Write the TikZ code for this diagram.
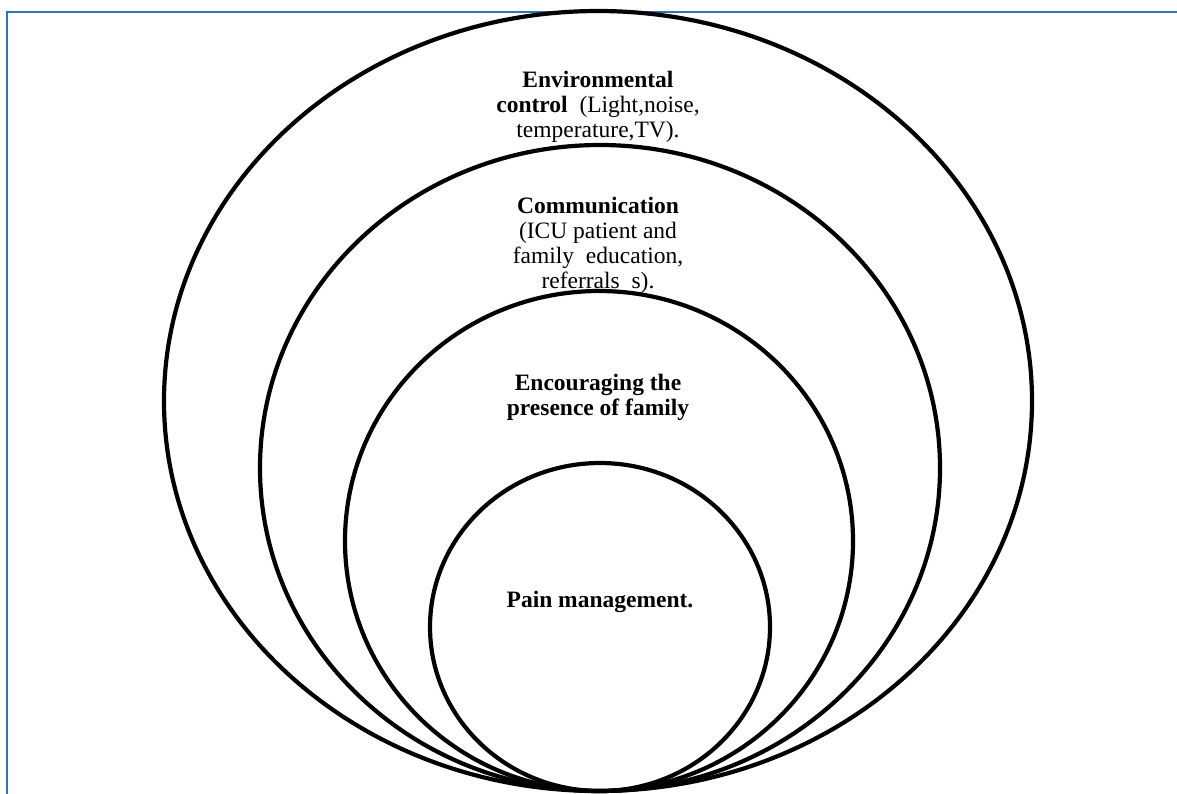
\documentclass[tikz,border=0pt]{standalone}
\usepackage{fontspec}
\setmainfont{Liberation Serif}
\newfontfamily\timesfont{Liberation Serif}
\usepackage{tikz}
\definecolor{framecol}{RGB}{46,117,182}

\begin{document}
\begin{tikzpicture}[x=1pt, y=-1pt, ring/.style = {line width=4.2pt}, label/.style = {align=center, font=\timesfont\fontsize{23.5}{25}\selectfont, inner sep=0pt}]
    \useasboundingbox (0,0) rectangle (1177,793);
    \draw[framecol, line width=2.8pt] (7,800) -- (7,12) -- (1185,12);
    % nested rings, all touching at the bottom
    \draw[ring] (598,401) ellipse [x radius=434pt, y radius=390pt];
    \draw[ring] (600,468) ellipse [x radius=340pt, y radius=323pt];
    \draw[ring] (599,541) ellipse [x radius=254pt, y radius=250pt];
    \draw[ring] (600,627) ellipse [x radius=170pt, y radius=164pt];
    \node[label] (env) at (598,107) {\textbf{Environmental}\\\textbf{control}\ \ (Light,noise,\\temperature,TV).};
    \node[label] (com) at (598,245) {\textbf{Communication}\\(ICU patient and\\family\ \ education,\\referrals\ \ s).};
    \node[label] (fam) at (598,397) {\textbf{Encouraging the}\\\textbf{presence of family}};
    \node[label] (pain) at (600,602) {\textbf{Pain management.}};
\end{tikzpicture}
\end{document}
